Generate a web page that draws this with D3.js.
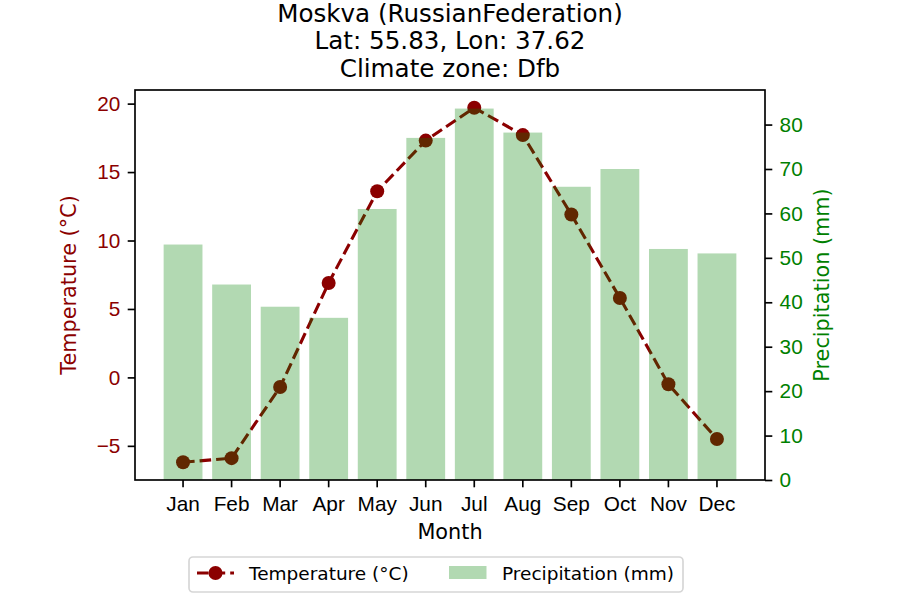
<!DOCTYPE html>
<html>
<head>
<meta charset="utf-8">
<script src="https://cdn.jsdelivr.net/npm/d3@7"></script>
<style>
  body { margin: 0; background: #fff; }
  svg { font-family: "DejaVu Sans", sans-serif; }
</style>
</head>
<body>
<svg id="chart" width="900" height="600"></svg>
<script>
// Monthly climate values
var months = ["Jan", "Feb", "Mar", "Apr", "May", "Jun", "Jul", "Aug", "Sep", "Oct", "Nov", "Dec"];
var temperature = [-6.2, -5.9, -0.7, 6.9, 13.6, 17.3, 19.7, 17.7, 11.9, 5.8, -0.5, -4.5];
var precipitation = [53, 44, 39, 36.5, 61, 77, 83.6, 78.2, 66, 70, 52, 51];
var tempTicks = [-5, 0, 5, 10, 15, 20];
var precipTicks = [0, 10, 20, 30, 40, 50, 60, 70, 80];
var titleLines = ["Moskva (RussianFederation)", "Lat: 55.83, Lon: 37.62", "Climate zone: Dfb"];

var svg = d3.select("#chart");
var margin = { top: 90, right: 135, bottom: 120, left: 135 };
var width = 900 - margin.left - margin.right;
var height = 600 - margin.top - margin.bottom;

var tempColor = "darkred";
var precipColor = "green";

var g = svg.append("g").attr("transform", `translate(${margin.left},${margin.top})`);

// x: bars 0.8 wide, 5% margins like matplotlib
var x = d3.scaleBand()
  .domain(months)
  .range([0, width])
  .paddingInner(0.2)
  .paddingOuter(0.59);

var yTemp = d3.scaleLinear().domain([-7.495, 20.995]).range([height, 0]);
var yPrecip = d3.scaleLinear().domain([0, 87.78]).range([height, 0]);

// Temperature line (drawn under the bars)
var line = d3.line()
  .x((d, i) => x(months[i]) + x.bandwidth() / 2)
  .y(d => yTemp(d));

g.append("path")
  .datum(temperature)
  .attr("fill", "none")
  .attr("stroke", tempColor)
  .attr("stroke-width", 3.1)
  .attr("stroke-dasharray", "11.6,5")
  .attr("d", line);

g.selectAll(".dot")
  .data(temperature)
  .enter()
  .append("circle")
  .attr("cx", (d, i) => x(months[i]) + x.bandwidth() / 2)
  .attr("cy", d => yTemp(d))
  .attr("r", 7)
  .attr("fill", tempColor);

// Precipitation bars
g.selectAll(".bar")
  .data(precipitation)
  .enter()
  .append("rect")
  .attr("x", (d, i) => x(months[i]))
  .attr("y", d => yPrecip(d))
  .attr("width", x.bandwidth())
  .attr("height", d => height - yPrecip(d))
  .attr("fill", precipColor)
  .attr("fill-opacity", 0.3);

// Axes
function styleAxis(sel, color) {
  sel.select(".domain").remove();
  sel.selectAll(".tick line").attr("stroke", "#000").attr("stroke-width", 1.67);
  sel.selectAll(".tick text").attr("fill", color).style("font-size", "20.8px");
}

var xAxis = g.append("g")
  .attr("transform", `translate(0,${height})`)
  .call(d3.axisBottom(x).tickSize(7.3).tickPadding(8.5));
styleAxis(xAxis, "#000");

var yAxisLeft = g.append("g")
  .call(d3.axisLeft(yTemp).tickValues(tempTicks).tickSize(7.3).tickPadding(7.3)
    .tickFormat(d => d < 0 ? "\u2212" + Math.abs(d) : d));
styleAxis(yAxisLeft, tempColor);

var yAxisRight = g.append("g")
  .attr("transform", `translate(${width},0)`)
  .call(d3.axisRight(yPrecip).tickValues(precipTicks).tickSize(7.3).tickPadding(7.3));
styleAxis(yAxisRight, precipColor);

// Frame
g.append("rect")
  .attr("width", width)
  .attr("height", height)
  .attr("fill", "none")
  .attr("stroke", "#000")
  .attr("stroke-width", 1.67);

// Axis labels
g.append("text")
  .attr("x", width / 2)
  .attr("y", height + 59)
  .attr("text-anchor", "middle")
  .style("font-size", "20.8px")
  .text("Month");

g.append("text")
  .attr("transform", `translate(-59,${height / 2}) rotate(-90)`)
  .attr("text-anchor", "middle")
  .attr("fill", tempColor)
  .style("font-size", "20.8px")
  .text("Temperature (°C)");

g.append("text")
  .attr("transform", `translate(${width + 64},${height / 2}) rotate(-90)`)
  .attr("text-anchor", "middle")
  .attr("fill", precipColor)
  .style("font-size", "20.8px")
  .text("Precipitation (mm)");

// Title
svg.append("g").selectAll("text")
  .data(titleLines)
  .enter()
  .append("text")
  .attr("x", margin.left + width / 2)
  .attr("y", (d, i) => 21.5 + i * 27.5)
  .attr("text-anchor", "middle")
  .style("font-size", "24.6px")
  .text(d => d);

// Legend
var legend = svg.append("g").attr("transform", "translate(189,557)");
legend.append("rect")
  .attr("width", 494)
  .attr("height", 35)
  .attr("rx", 4)
  .attr("fill", "#fff")
  .attr("fill-opacity", 0.8)
  .attr("stroke", "#d6d6d6")
  .attr("stroke-width", 1.67);

legend.append("line")
  .attr("x1", 8).attr("x2", 45)
  .attr("y1", 16).attr("y2", 16)
  .attr("stroke", tempColor)
  .attr("stroke-width", 3.1)
  .attr("stroke-dasharray", "11.6,5");
legend.append("circle")
  .attr("cx", 26.5).attr("cy", 16).attr("r", 7)
  .attr("fill", tempColor);
legend.append("text")
  .attr("x", 60).attr("y", 22.5)
  .style("font-size", "18.5px")
  .text("Temperature (°C)");

legend.append("rect")
  .attr("x", 260).attr("y", 9)
  .attr("width", 37.5).attr("height", 13)
  .attr("fill", precipColor)
  .attr("fill-opacity", 0.3);
legend.append("text")
  .attr("x", 313).attr("y", 22.5)
  .style("font-size", "18.5px")
  .text("Precipitation (mm)");
</script>
</body>
</html>
